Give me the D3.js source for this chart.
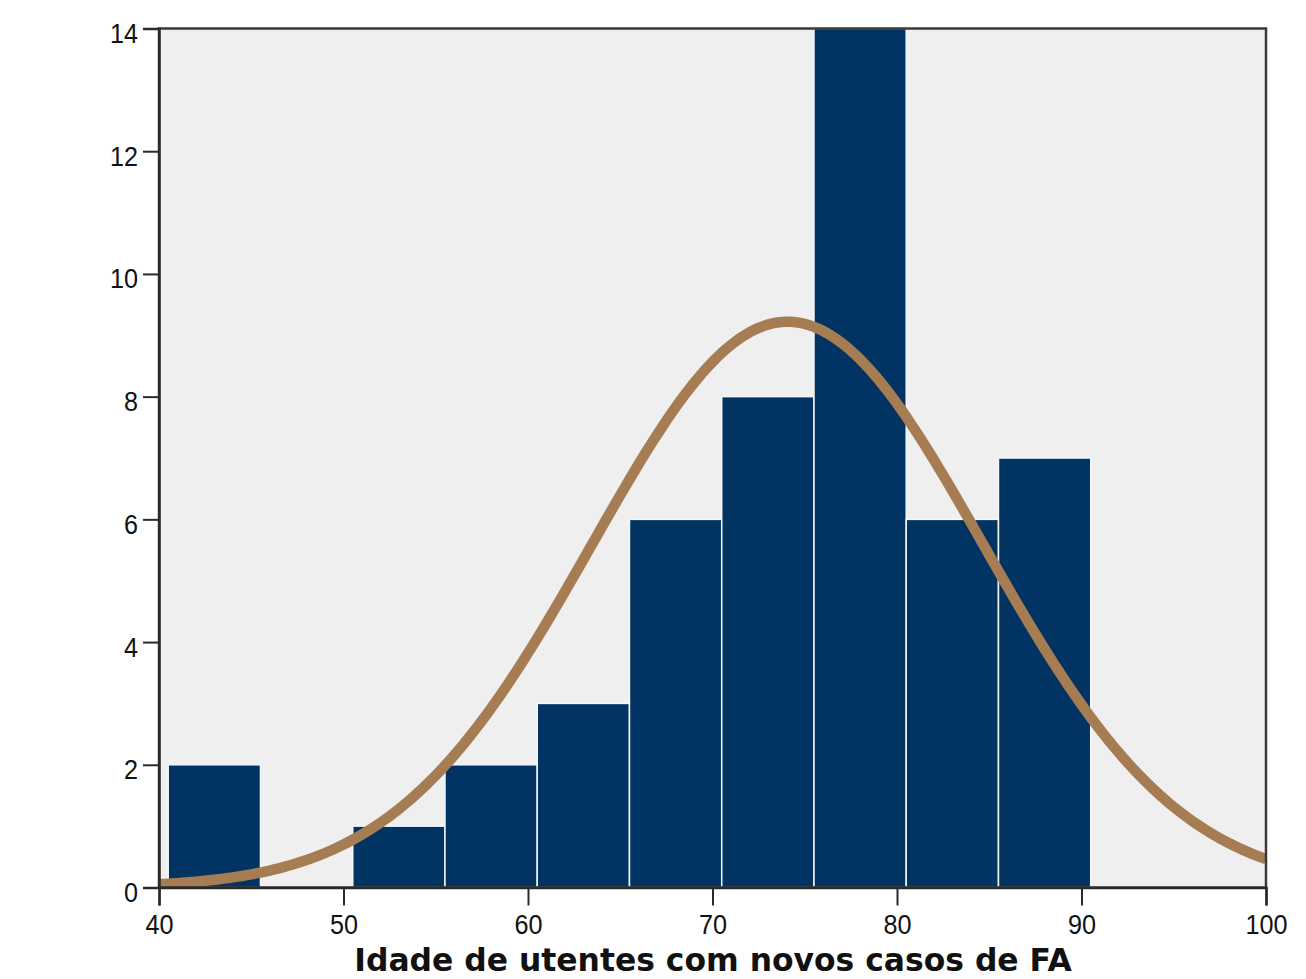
<!DOCTYPE html>
<html>
<head>
<meta charset="utf-8">
<script src="https://cdn.jsdelivr.net/npm/d3@7"></script>
<style>
  html, body { margin: 0; padding: 0; background: #ffffff; }
  svg { display: block; }
</style>
</head>
<body>
<svg id="chart" width="1306" height="979"></svg>
<script>
// Histogram of patient ages with new AF cases (bin width 5)
const binStarts = [40.5, 45.5, 50.5, 55.5, 60.5, 65.5, 70.5, 75.5, 80.5, 85.5];
const binWidth = 5;
const counts = [2, 0, 1, 2, 3, 6, 8, 14, 6, 7];

// Normal curve fitted to the ages
const fitMean = 74.07;
const fitSD = 10.6;
const fitN = 49;

const xTicks = [40, 50, 60, 70, 80, 90, 100];
const yTicks = [0, 2, 4, 6, 8, 10, 12, 14];
const xTitle = "Idade de utentes com novos casos de FA";

const svg = d3.select("#chart");
const plot = { left: 159, top: 28.5, right: 1266, bottom: 887.5 };

const x = d3.scaleLinear().domain([40, 100]).range([plot.left, plot.right]);
const y = d3.scaleLinear().domain([0, 14]).range([plot.bottom, plot.top]);

// plot background
svg.append("rect")
  .attr("x", plot.left).attr("y", plot.top)
  .attr("width", plot.right - plot.left).attr("height", plot.bottom - plot.top)
  .attr("fill", "#efefef");

svg.append("clipPath").attr("id", "plotClip")
  .append("rect")
  .attr("x", plot.left).attr("y", plot.top)
  .attr("width", plot.right - plot.left).attr("height", plot.bottom - plot.top);

// bars
const bins = binStarts.map((s, i) => ({ x0: s, x1: s + binWidth, n: counts[i] }));
svg.append("g")
  .selectAll("rect")
  .data(bins.filter(d => d.n > 0))
  .join("rect")
  .attr("x", d => x(d.x0))
  .attr("y", d => y(d.n))
  .attr("width", d => x(d.x1) - x(d.x0))
  .attr("height", d => y(0) - y(d.n))
  .attr("fill", "#013462")
  .attr("stroke", "#f4f7fa")
  .attr("stroke-width", 1.5);

// fitted normal curve scaled to counts
const dens = v => fitN * binWidth / (fitSD * Math.sqrt(2 * Math.PI)) *
  Math.exp(-0.5 * Math.pow((v - fitMean) / fitSD, 2));
const curvePts = d3.range(40, 100.001, 0.25).map(v => [v, dens(v)]);
svg.append("path")
  .datum(curvePts)
  .attr("clip-path", "url(#plotClip)")
  .attr("fill", "none")
  .attr("stroke", "#a67c52")
  .attr("stroke-width", 10.5)
  .attr("d", d3.line().x(d => x(d[0])).y(d => y(d[1])));

// frame
svg.append("rect")
  .attr("x", plot.left).attr("y", plot.top)
  .attr("width", plot.right - plot.left).attr("height", plot.bottom - plot.top)
  .attr("fill", "none")
  .attr("stroke", "#3a3a3a")
  .attr("stroke-width", 2.5);

const tickFont = "'Liberation Sans', Arial, sans-serif";
const squeeze = 0.9;

// x axis
const xAxis = svg.append("g")
  .attr("transform", `translate(0,${plot.bottom})`)
  .call(d3.axisBottom(x).tickValues(xTicks).tickSize(18).tickPadding(6).tickFormat(d3.format("d")));
xAxis.select(".domain").attr("stroke", "#2a2a2a").attr("stroke-width", 2.5);
xAxis.selectAll(".tick line").attr("stroke", "#2a2a2a").attr("stroke-width", 2);
xAxis.selectAll("text")
  .attr("font-family", tickFont).attr("font-size", 28).attr("fill", "#111")
  .attr("dy", "0.8em")
  .attr("transform", `scale(${squeeze},1)`);

// y axis
const yAxis = svg.append("g")
  .attr("transform", `translate(${plot.left},0)`)
  .call(d3.axisLeft(y).tickValues(yTicks).tickSize(16).tickPadding(4).tickFormat(d3.format("d")));
yAxis.select(".domain").attr("stroke", "#2a2a2a").attr("stroke-width", 2.5);
yAxis.selectAll(".tick line").attr("stroke", "#2a2a2a").attr("stroke-width", 2);
yAxis.selectAll("text")
  .attr("font-family", tickFont).attr("font-size", 28).attr("fill", "#111")
  .attr("dy", "0.5em")
  .attr("x", -21 / squeeze)
  .attr("transform", `scale(${squeeze},1)`);

// axis title
svg.append("text")
  .attr("x", 713).attr("y", 971)
  .attr("text-anchor", "middle")
  .attr("font-family", "'DejaVu Sans', Verdana, sans-serif")
  .attr("font-weight", "bold")
  .attr("font-size", 31.4)
  .attr("fill", "#111")
  .text(xTitle);
</script>
</body>
</html>
